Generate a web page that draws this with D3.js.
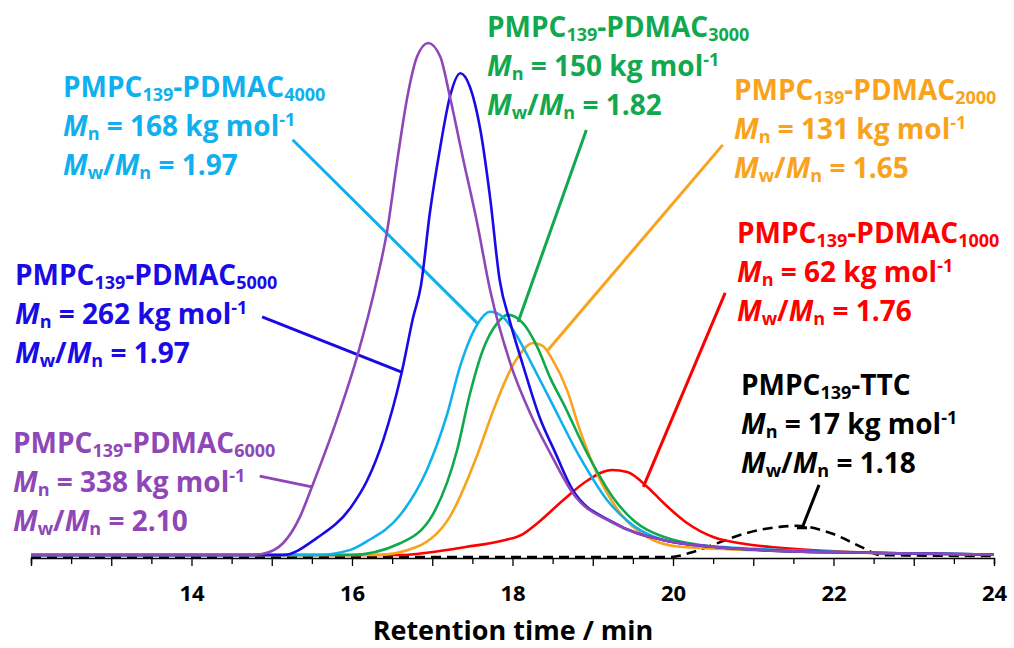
<!DOCTYPE html>
<html>
<head>
<meta charset="utf-8">
<script src="https://cdn.jsdelivr.net/npm/d3@7"></script>
<style>
body { margin: 0; background: #fff; }
svg { font-family: "Open Sans", sans-serif; font-weight: 700; }
</style>
</head>
<body>
<div id="vis"></div>
<script>
// GPC traces: retention time (min) vs normalised RI signal
var ttc = [[12, -0.004], [19.96, -0.004], [20.25, 0.006], [20.5, 0.02], [20.92, 0.043], [21.33, 0.055],
    [21.55, 0.057], [21.96, 0.043], [22.37, 0.014], [22.58, 0], [24, -0.002]];
var pdmac1000 = [[12, 0], [16.6, 0], [17.01, 0.006], [17.43, 0.016], [17.84, 0.027], [18.13, 0.041],
    [18.34, 0.066], [18.63, 0.107], [18.93, 0.145], [19.24, 0.166], [19.43, 0.162], [19.68, 0.133],
    [19.88, 0.102], [20.17, 0.063], [20.5, 0.035], [20.92, 0.021], [21.33, 0.014], [22.58, 0.004], [24, 0.001]];
var pdmac2000 = [[12, 0], [16.31, 0], [16.81, 0.016], [17.22, 0.075], [17.56, 0.195], [17.76, 0.282],
    [18.01, 0.372], [18.26, 0.414], [18.38, 0.408], [18.5, 0.381], [18.68, 0.322], [18.84, 0.244],
    [19.05, 0.16], [19.34, 0.082], [19.68, 0.035], [20.09, 0.016], [21.33, 0.008], [22.58, 0.004], [24, 0.001]];
var pdmac3000 = [[12, 0], [15.98, 0], [16.6, 0.023], [17.01, 0.08], [17.31, 0.205], [17.47, 0.315],
    [17.63, 0.4], [17.81, 0.453], [17.94, 0.469], [18.13, 0.453], [18.31, 0.406], [18.47, 0.346],
    [18.63, 0.297], [18.93, 0.199], [19.25, 0.113], [19.68, 0.049], [20.5, 0.016], [21.33, 0.008],
    [22.58, 0.004], [24, 0.001]];
var pdmac4000 = [[12, 0], [15.56, 0], [15.98, 0.01], [16.19, 0.027], [16.6, 0.078], [16.93, 0.165],
    [17.18, 0.272], [17.35, 0.37], [17.56, 0.45], [17.72, 0.475], [17.88, 0.465],
    [18.06, 0.426], [18.26, 0.367], [18.47, 0.303], [18.84, 0.191], [19.18, 0.107], [19.46, 0.063],
    [20.09, 0.023], [21.33, 0.01], [22.58, 0.004], [24, 0.001]];
var pdmac5000 = [[12, 0], [15.14, 0], [15.56, 0.033], [15.98, 0.092], [16.19, 0.146], [16.39, 0.225],
    [16.62, 0.357], [16.76, 0.463], [16.86, 0.527], [16.97, 0.668], [17.1, 0.797], [17.22, 0.895],
    [17.35, 0.941], [17.47, 0.914], [17.6, 0.83], [17.72, 0.699], [17.84, 0.537], [17.97, 0.455],
    [18.13, 0.371], [18.34, 0.268], [18.53, 0.201], [18.75, 0.127], [19.25, 0.064], [19.88, 0.029],
    [20.5, 0.016], [21.33, 0.008], [22.58, 0.004], [24, 0.001]];
var pdmac6000 = [[12, 0], [14.73, 0], [14.88, 0.002], [15.14, 0.023], [15.35, 0.074], [15.5, 0.133],
    [15.81, 0.264], [16.07, 0.391], [16.31, 0.537], [16.44, 0.635], [16.56, 0.766], [16.69, 0.895],
    [16.81, 0.973], [16.95, 1], [17.1, 0.973], [17.22, 0.895], [17.38, 0.777], [17.56, 0.648],
    [17.72, 0.518], [17.98, 0.371], [18.22, 0.277], [18.47, 0.199], [18.75, 0.121], [19.25, 0.063],
    [19.88, 0.029], [20.5, 0.016], [21.33, 0.008], [22.58, 0.004], [24, 0.001]];

var blocks = ["TTC", "1000", "2000", "3000", "4000", "5000", "6000"];
var mnValues = ["17", "62", "131", "150", "168", "262", "338"];
var dispersities = ["1.18", "1.76", "1.65", "1.82", "1.97", "1.97", "2.10"];
var colours = ["#000000", "#ff0000", "#f9a31c", "#12a84f", "#10b0ee", "#1a0ae6", "#8f47b7"];
var traces = [ttc, pdmac1000, pdmac2000, pdmac3000, pdmac4000, pdmac5000, pdmac6000];

// leader lines from label to trace, in data units
var leaders = [
    [[21.82, 0.137], [21.61, 0.053], [21.545, 0.053], [21.67, 0.053]],
    [[20.65, 0.512], [19.63, 0.133]],
    [[20.62, 0.801], [18.44, 0.4]],
    [[18.92, 0.83], [18.07, 0.455]],
    [[15.26, 0.811], [17.56, 0.453]],
    [[14.88, 0.465], [16.62, 0.357]],
    [[14.85, 0.154], [15.5, 0.133]]
];

var xTicks = d3.range(12, 24.01, 0.5);
var xLabels = [14, 16, 18, 20, 22, 24];

var width = 1014;
var height = 648;

// label block positions (left, first baseline)
var labelPos = [[741, 395], [737, 243], [734, 100], [487, 37], [63, 97], [15, 285], [13, 453]];

var svg = d3.select('#vis')
    .append('svg')
    .attr('width', width)
    .attr('height', height);

var x_scale = d3.scaleLinear()
    .domain([12, 24])
    .range([31, 994]);

var y_scale = d3.scaleLinear()
    .domain([0, 1])
    .range([555, 43]);

// x axis
var x_axis = d3.axisBottom(x_scale)
    .tickValues(xTicks)
    .tickSize(6)
    .tickFormat(function(d) { return xLabels.indexOf(d) >= 0 ? d : ''; });

var axis_g = svg.append('g')
    .attr('class', 'x axis')
    .attr('transform', 'translate(0,558)')
    .call(x_axis);

axis_g.select('.domain').attr('stroke', '#000').attr('stroke-width', 1.5);
axis_g.selectAll('.tick line')
    .attr('stroke', '#000')
    .attr('stroke-width', 1.3)
    .attr('y2', function(d) { return d % 1 === 0 ? 8 : 6; });
axis_g.selectAll('.tick text')
    .attr('y', 0)
    .attr('dy', 0)
    .attr('transform', 'translate(0,43)')
    .style('font-family', '"Open Sans", sans-serif')
    .style('font-weight', 700)
    .style('font-size', '22px')
    .attr('fill', '#000');

svg.append('text')
    .attr('x', 513)
    .attr('y', 640)
    .attr('text-anchor', 'middle')
    .style('font-size', '27px')
    .attr('fill', '#000')
    .text('Retention time / min');

var line = d3.line()
    .x(function(d) { return x_scale(d[0]); })
    .y(function(d) { return y_scale(d[1]); })
    .curve(d3.curveMonotoneX);

var straight = d3.line()
    .x(function(d) { return x_scale(d[0]); })
    .y(function(d) { return y_scale(d[1]); });

// leaders
svg.selectAll('.leader')
    .data(leaders)
    .enter()
    .append('path')
    .attr('class', 'leader')
    .attr('d', straight)
    .attr('fill', 'none')
    .attr('stroke', function(d, i) { return colours[i]; })
    .attr('stroke-width', 3);

// traces
svg.selectAll('.trace')
    .data(traces)
    .enter()
    .append('path')
    .attr('class', 'trace')
    .attr('d', line)
    .attr('fill', 'none')
    .attr('stroke', function(d, i) { return colours[i]; })
    .attr('stroke-width', 2.6)
    .attr('stroke-dasharray', function(d, i) { return i === 0 ? '10,6' : null; });

// rich text: segments with sub / sup / italic
function writeLine(g, x, y, segs) {
    var t = g.append('text').attr('x', x).attr('y', y).style('font-size', '28px');
    var shift = 0;
    segs.forEach(function(s) {
        var want = s.sub ? 4 : (s.sup ? -10 : 0);
        var ts = t.append('tspan').attr('dy', want - shift).text(s.t);
        shift = want;
        if (s.sub || s.sup) ts.style('font-size', '18px');
        if (s.it) ts.style('font-style', 'italic');
    });
}

blocks.forEach(function(b, i) {
    var g = svg.append('g').attr('fill', colours[i]);
    var p = labelPos[i];
    var first = [{t: 'PMPC'}, {t: '139', sub: true}];
    if (b === 'TTC') first.push({t: '-TTC'});
    else first.push({t: '-PDMAC'}, {t: b, sub: true});
    writeLine(g, p[0], p[1], first);
    writeLine(g, p[0], p[1] + 39, [{t: 'M', it: true}, {t: 'n', sub: true}, {t: ' = ' + mnValues[i] + ' kg mol'}, {t: '-1', sup: true}]);
    writeLine(g, p[0], p[1] + 78, [{t: 'M', it: true}, {t: 'w', sub: true}, {t: '/'}, {t: 'M', it: true}, {t: 'n', sub: true}, {t: ' = ' + dispersities[i]}]);
});
</script>
</body>
</html>
